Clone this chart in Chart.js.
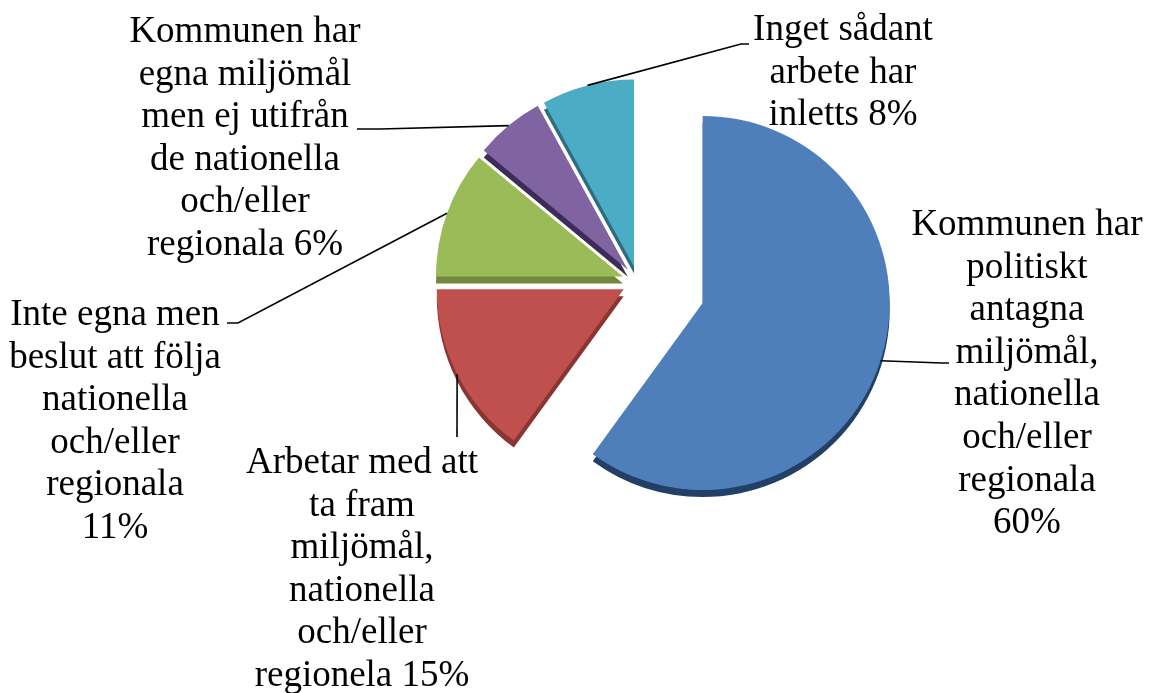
<!DOCTYPE html>
<html>

<head>
    <title>Miljömål i kommunerna</title>
    <script src="https://cdn.jsdelivr.net/npm/chart.js@4.4.1/dist/chart.umd.min.js">
    </script>
    <style>
        html, body { margin: 0; padding: 0; background: #ffffff; }
        .chart-box { width: 1153px; height: 693px; position: relative; }
    </style>
</head>

<body>
    <div class="chart-box">
        <canvas id="myChart"></canvas>
    </div>

    <script>
        // data, clockwise from 12 o'clock
        const categories = [
            'Kommunen har\npolitiskt\nantagna\nmiljömål,\nnationella\noch/eller\nregionala\n60%',
            'Arbetar med att\nta fram\nmiljömål,\nnationella\noch/eller\nregionela 15%',
            'Inte egna men\nbeslut att följa\nnationella\noch/eller\nregionala\n11%',
            'Kommunen har\negna miljömål\nmen ej utifrån\nde nationella\noch/eller\nregionala 6%',
            'Inget sådant\narbete har\ninletts 8%'
        ];
        const shares = [60, 15, 11, 6, 8];

        // look
        const faceColors = ['#4f7fbb', '#c0504d', '#9bbb59', '#8064a2', '#4bacc6'];
        const sideColors = ['#223f66', '#8a3533', '#71893f', '#3d2c57', '#2d6d80'];
        const explode = [68, 16, 16, 16, 16];
        const depth = 7;

        // where each label sits: centre x, first baseline, leader elbow and end
        const labelLayout = [
            { x: 1027, y: 235, elbow: [942, 363], end: [949, 363] },
            { x: 362, y: 473, elbow: [457, 437], end: [457, 437] },
            { x: 115, y: 325, elbow: [238, 323], end: [227, 323] },
            { x: 245, y: 42, elbow: [380, 129], end: [357, 129] },
            { x: 843, y: 40, elbow: [741, 44], end: [749, 44] }
        ];
        const lineHeight = 42.6;
        const labelFont = '37px "Liberation Serif", "Times New Roman", serif';

        const explodedPie = {
            id: 'explodedPie',
            beforeDatasetDraw(chart, args) {
                const ctx = chart.ctx;
                const arcs = args.meta.data;
                // side walls first
                arcs.forEach(function (arc, i) {
                    const mid = (arc.startAngle + arc.endAngle) / 2;
                    ctx.save();
                    ctx.translate(Math.cos(mid) * explode[i], Math.sin(mid) * explode[i] + depth);
                    ctx.fillStyle = sideColors[i];
                    ctx.beginPath();
                    ctx.moveTo(arc.x, arc.y);
                    ctx.arc(arc.x, arc.y, arc.outerRadius, arc.startAngle, arc.endAngle);
                    ctx.closePath();
                    ctx.fill();
                    ctx.restore();
                });
                // top faces
                arcs.forEach(function (arc, i) {
                    const mid = (arc.startAngle + arc.endAngle) / 2;
                    ctx.save();
                    ctx.translate(Math.cos(mid) * explode[i], Math.sin(mid) * explode[i]);
                    arc.draw(ctx);
                    ctx.restore();
                });
                return false;
            },
            afterDraw(chart) {
                const ctx = chart.ctx;
                const arcs = chart.getDatasetMeta(0).data;
                ctx.save();
                ctx.strokeStyle = '#000000';
                ctx.lineWidth = 1.6;
                arcs.forEach(function (arc, i) {
                    const mid = (arc.startAngle + arc.endAngle) / 2;
                    const r = arc.outerRadius + explode[i];
                    const sx = arc.x + Math.cos(mid) * r;
                    const sy = arc.y + Math.sin(mid) * r;
                    const lay = labelLayout[i];
                    ctx.beginPath();
                    ctx.moveTo(sx, sy);
                    ctx.lineTo(lay.elbow[0], lay.elbow[1]);
                    ctx.lineTo(lay.end[0], lay.end[1]);
                    ctx.stroke();
                });
                ctx.fillStyle = '#000000';
                ctx.font = labelFont;
                ctx.textAlign = 'center';
                ctx.textBaseline = 'alphabetic';
                categories.forEach(function (cat, i) {
                    const lay = labelLayout[i];
                    cat.split('\n').forEach(function (line, k) {
                        ctx.fillText(line, lay.x, lay.y + k * lineHeight);
                    });
                });
                ctx.restore();
            }
        };

        const ctx = document.getElementById('myChart');
        const myChart = new Chart(ctx, {
            type: 'pie',
            data: {
                labels: categories,
                datasets: [{
                    data: shares,
                    backgroundColor: faceColors,
                    borderWidth: 0,
                    hoverOffset: 0,
                    offset: 0
                }]
            },
            options: {
                responsive: true,
                maintainAspectRatio: false,
                animation: false,
                radius: 187,
                layout: {
                    padding: { left: 451, right: 328, top: 95, bottom: 224 }
                },
                plugins: {
                    legend: { display: false },
                    tooltip: { enabled: false }
                }
            },
            plugins: [explodedPie]
        });
    </script>
</body>

</html>
